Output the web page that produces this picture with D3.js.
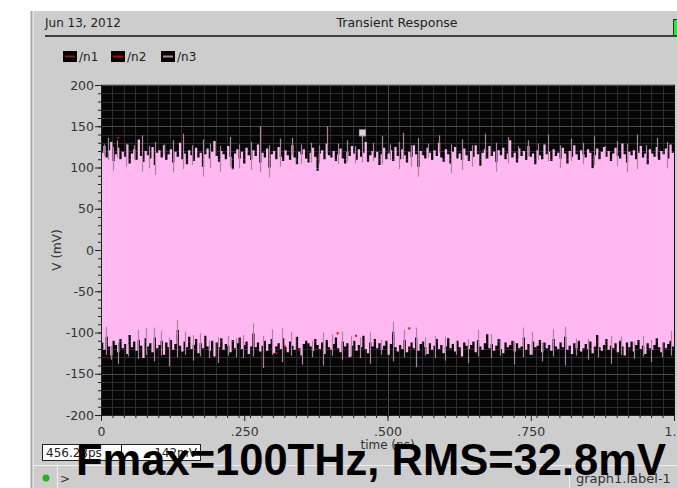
<!DOCTYPE html>
<html>
<head>
<meta charset="utf-8">
<script src="https://cdn.jsdelivr.net/npm/d3@7"></script>
<style>
  body { margin: 0; background: #ffffff; }
  svg { display: block; }
  text { font-family: "DejaVu Sans", sans-serif; }
  text.annotation { font-family: "Liberation Sans", Arial, sans-serif; font-weight: bold; }
</style>
</head>
<body>
<svg id="chart" width="677" height="488"></svg>
<script>
// ---- Transient response: node voltage noise, 0 .. 1 ns ----
const sampleStep = 0.004; // ns per min/max bin

// upper envelope of the trace per bin (mV)
const binMax = [
  118,126,112,121,131,108,116,124,110,119,
  113,128,105,117,122,109,134,114,107,120,
  115,111,125,103,118,121,112,127,109,116,
  122,106,119,113,130,110,117,104,121,115,
  108,124,112,118,101,116,123,111,119,132,
  114,107,120,116,110,126,113, 98,117,122,
  111,119,105,124,115,109,121,114,128,106,
  118,112,123,100,116,120,110,125,113,108,
  121,115,109,127,112,104,119,116,122,111,
  106,118,124,113, 96,117,121,110,129,115,
  112,120,108,116,123,111,105,119,114,126,
  117,109,122,113,118,131,107,115,120,112,
  119,103,116,124,110,117,121,108,125,114,
  110,122,115,106,119,113,127,116,101,120,
  115,111,124,118,109,121,114,130,112,107,
  122,116,105,119,125,111,117,109,123,115,
  108,120,113,127,116,102,118,122,111,126,
  114,119,107,121,115,124,110,117,133,112,
  118,106,123,114,120,109,126,113,117,104,
  121,115,110,128,116,119,108,122,114,118,
  111,124,117,105,120,113,127,116,109,121,
  116,112,122,118, 99,115,123,110,119,125,
  113,120,108,117,124,114,111,129,116,106,
  119,115,121,110,118,126,112,117,104,122,
  117,113,125,109,120,116,123,111,128,118
];

// lower envelope of the trace per bin (mV)
const binMin = [
  -112,-121,-105,-117,-128,-110,-115,-124,-108,-119,
  -114,-126,-103,-118,-111,-122,-109,-116,-131,-107,
  -117,-113,-124,-106,-119,-115,-110,-127,-112,-118,
  -109,-121,-114, -97,-116,-123,-111,-118,-105,-120,
  -115,-108,-125,-113,-119,-104,-117,-122,-110,-129,
  -112,-118,-107,-121,-114,-116,-124,-109,-119,-113,
  -106,-120,-115,-111,-126,-117,-101,-118,-112,-123,
  -116,-110,-122,-114,-108,-125,-117,-113,-120,-107,
  -118,-124,-111,-116,-121,-105,-119,-128,-114,-110,
  -113,-117,-122,-108,-115,-120,-112,-126,-109,-118,
  -121,-114,-106,-119,-124,-111,-117,-113,-130,-116,
  -110,-122,-115,-118,-104,-120,-125,-112,-117,-108,
  -119,-113,-121,-116,-110,-127,-114, -99,-118,-123,
  -115,-120,-109,-124,-117,-112,-119,-106,-122,-114,
  -111,-118,-126,-113,-121,-116,-108,-120,-115,-125,
  -117,-107,-119,-114,-123,-110,-118,-129,-112,-116,
  -120,-115,-111,-124,-109,-117,-121,-113,-102,-119,
  -114,-122,-116,-108,-120,-125,-112,-118,-115,-110,
  -123,-113,-119,-117,-106,-121,-114,-127,-111,-118,
  -116,-109,-124,-112,-119,-115,-122,-108,-117,-120,
  -112,-118,-105,-121,-116,-126,-113,-119,-110,-123,
  -119,-114,-120,-111,-125,-117,-103,-118,-122,-115,
  -108,-121,-116,-119,-113,-124,-110,-117,-128,-112,
  -118,-111,-123,-115,-109,-120,-116,-126,-113,-119,
  -121,-115,-107,-118,-124,-112,-119,-114,-110,-117
];

// isolated peaks of the /n3 trace beyond the envelope: [time (ns), mV]
const peaksHigh = [
  [0.006,128],[0.012,136],[0.021,125],[0.028,133],[0.043,129],[0.058,127],[0.072,139],
  [0.084,126],[0.095,131],[0.110,128],[0.126,133],[0.143,141],[0.158,127],[0.178,134],
  [0.190,129],[0.207,126],[0.226,137],[0.241,128],[0.262,131],[0.278,150],[0.293,127],
  [0.312,135],[0.334,136],[0.349,128],[0.366,130],[0.381,127],[0.395,150],[0.413,129],
  [0.430,133],[0.443,126],[0.456,142],[0.474,130],[0.490,138],[0.505,128],[0.520,131],
  [0.527,142],[0.541,127],[0.554,136],[0.571,129],[0.590,139],[0.611,128],[0.630,134],
  [0.648,127],[0.670,141],[0.689,130],[0.710,137],[0.728,126],[0.745,133],[0.762,129],
  [0.780,140],[0.801,127],[0.820,135],[0.842,130],[0.860,138],[0.879,126],[0.900,132],
  [0.918,129],[0.935,140],[0.952,127],[0.970,136],[0.988,131]
];
const peaksLow = [
  [0.009,-127],[0.018,-133],[0.030,-138],[0.047,-129],[0.065,-132],[0.079,-127],[0.092,-135],
  [0.104,-128],[0.118,-141],[0.133,-130],[0.147,-127],[0.160,-134],[0.173,-129],[0.188,-131],
  [0.205,-137],[0.221,-128],[0.235,-130],[0.248,-131],[0.266,-129],[0.283,-143],[0.299,-127],
  [0.316,-136],[0.331,-128],[0.350,-139],[0.368,-130],[0.387,-140],[0.404,-128],[0.420,-133],
  [0.437,-129],[0.452,-131],[0.470,-138],[0.488,-127],[0.510,-135],[0.529,-130],[0.550,-142],
  [0.566,-128],[0.583,-131],[0.600,-134],[0.619,-127],[0.640,-137],[0.658,-129],[0.680,-131],
  [0.697,-128],[0.720,-139],[0.737,-130],[0.753,-127],[0.770,-135],[0.789,-129],[0.810,-140],
  [0.829,-128],[0.850,-133],[0.868,-130],[0.890,-138],[0.908,-127],[0.930,-132],[0.946,-129],
  [0.960,-136],[0.979,-130],[0.994,-128]
];

// samples of the /n2 trace visible at the edges: [time (ns), mV]
const n2Points = [[0.030,136],[0.306,-125],[0.321,-117],[0.346,-121],[0.413,-101],[0.445,-104],[0.538,-95]];

// cursor readout
const cursorT = 0.45628;   // ns
const cursorV = 142;       // mV

const yTickValues = [200, 150, 100, 50, 0, -50, -100, -150, -200];
const xTickValues = [0, 0.25, 0.5, 0.75, 1];
const xTickLabels = ["0", ".250", ".500", ".750", "1."];

const legendItems = [
  { name: "/n1", color: "#7a2418" },
  { name: "/n2", color: "#c80000" },
  { name: "/n3", color: "#a88aa2" }
];

// ---- layout ----
const svg = d3.select("#chart");
const plot = { left: 101, right: 674, top: 85, bottom: 415 };
const panelGray = "#cdcdcd";

const x = d3.scaleLinear().domain([0, 1]).range([plot.left, plot.right]);
const y = d3.scaleLinear().domain([-200, 200]).range([plot.bottom, plot.top]);

// window panel
svg.append("rect").attr("x", 30).attr("y", 11).attr("width", 647).attr("height", 477).attr("fill", panelGray);
svg.append("line").attr("x1", 31.5).attr("x2", 31.5).attr("y1", 11).attr("y2", 488).attr("stroke", "#a8a8a8");
svg.append("line").attr("x1", 33.5).attr("x2", 33.5).attr("y1", 11).attr("y2", 488).attr("stroke", "#e6e6e6");

// header
svg.append("text").attr("x", 45).attr("y", 27).attr("font-size", 12).attr("fill", "#222").text("Jun 13, 2012");
svg.append("text").attr("x", 397).attr("y", 27).attr("font-size", 12.5).attr("fill", "#222")
  .attr("text-anchor", "middle").text("Transient Response");
svg.append("line").attr("x1", 45).attr("x2", 677).attr("y1", 36).attr("y2", 36).attr("stroke", "#111").attr("stroke-width", 1.5);
svg.append("rect").attr("x", 673.5).attr("y", 19.5).attr("width", 5).attr("height", 16).attr("fill", "#22ee22").attr("stroke", "#333");

// legend
const legendX = [63, 111, 161];
const lg = svg.append("g").selectAll("g").data(legendItems).join("g")
  .attr("transform", (d, i) => `translate(${legendX[i]},51)`);
lg.append("rect").attr("width", 14).attr("height", 11).attr("fill", "#000");
lg.append("line").attr("x1", 2).attr("x2", 12).attr("y1", 5.5).attr("y2", 5.5)
  .attr("stroke", d => d.color).attr("stroke-width", 2);
lg.append("text").attr("x", 16).attr("y", 10).attr("font-size", 12).attr("fill", "#222").text(d => d.name);

// plot background
svg.append("rect").attr("x", plot.left).attr("y", plot.top)
  .attr("width", plot.right - plot.left).attr("height", plot.bottom - plot.top).attr("fill", "#060606");

// grid: minor then major
const grid = svg.append("g");
const xMinor = x.ticks(40), yMinor = y.ticks(40);
grid.selectAll(".vx").data(xMinor).join("line")
  .attr("x1", d => Math.round(x(d)) + 0.5).attr("x2", d => Math.round(x(d)) + 0.5)
  .attr("y1", plot.top).attr("y2", plot.bottom)
  .attr("stroke", d => xTickValues.some(v => Math.abs(v - d) < 1e-9) ? "#4c4c4c" : "#2c2c2c");
grid.selectAll(".hy").data(yMinor).join("line")
  .attr("y1", d => Math.round(y(d)) + 0.5).attr("y2", d => Math.round(y(d)) + 0.5)
  .attr("x1", plot.left).attr("x2", plot.right)
  .attr("stroke", d => d % 50 === 0 ? "#4c4c4c" : "#2c2c2c");

// clip for the trace
svg.append("clipPath").attr("id", "plotClip").append("rect")
  .attr("x", plot.left).attr("y", plot.top)
  .attr("width", plot.right - plot.left).attr("height", plot.bottom - plot.top);
const traceG = svg.append("g").attr("clip-path", "url(#plotClip)");

// min/max band of the trace
const bins = binMax.map((hi, i) => ({ t: i * sampleStep, hi, lo: binMin[i] }));
bins.push({ t: 1, hi: binMax[binMax.length - 1], lo: binMin[binMin.length - 1] });
const band = d3.area().x(d => x(d.t)).y0(d => y(d.lo)).y1(d => y(d.hi)).curve(d3.curveStepAfter);
traceG.append("path").datum(bins).attr("d", band).attr("fill", "#ffb8f0");

// isolated peaks
const binAt = t => bins[Math.min(binMax.length - 1, Math.floor(t / sampleStep))];
traceG.selectAll(".ph").data(peaksHigh).join("line")
  .attr("x1", d => Math.round(x(d[0])) + 0.5).attr("x2", d => Math.round(x(d[0])) + 0.5)
  .attr("y1", d => y(binAt(d[0]).hi - 12)).attr("y2", d => y(d[1]))
  .attr("stroke", "#a9839f").attr("stroke-width", 1.2);
traceG.selectAll(".pl").data(peaksLow).join("line")
  .attr("x1", d => Math.round(x(d[0])) + 0.5).attr("x2", d => Math.round(x(d[0])) + 0.5)
  .attr("y1", d => y(binAt(d[0]).lo + 12)).attr("y2", d => y(d[1]))
  .attr("stroke", "#a9839f").attr("stroke-width", 1.2);
traceG.selectAll(".n2").data(n2Points).join("rect")
  .attr("x", d => x(d[0]) - 1).attr("y", d => y(d[1]) - 1).attr("width", 2).attr("height", 2)
  .attr("fill", "#e00000");

// cursor marker
svg.append("rect").attr("x", x(cursorT) - 3).attr("y", y(cursorV) - 3).attr("width", 6).attr("height", 6)
  .attr("fill", "#e4cfe0").attr("stroke", "#b0b0b0");

// plot frame
svg.append("line").attr("x1", plot.left).attr("x2", plot.right + 1).attr("y1", plot.top - 0.5).attr("y2", plot.top - 0.5).attr("stroke", "#9a9a9a");
svg.append("line").attr("x1", plot.right + 0.5).attr("x2", plot.right + 0.5).attr("y1", plot.top).attr("y2", plot.bottom).attr("stroke", "#111");

// axes
const axisColor = "#222";
const yMinorAxis = svg.append("g").attr("transform", `translate(${plot.left},0)`)
  .call(d3.axisLeft(y).tickValues(yMinor).tickSize(3).tickFormat(""));
const yAxis = svg.append("g").attr("transform", `translate(${plot.left},0)`)
  .call(d3.axisLeft(y).tickValues(yTickValues).tickSize(6).tickPadding(1).tickFormat(d => String(d)));
const xMinorAxis = svg.append("g").attr("transform", `translate(0,${plot.bottom})`)
  .call(d3.axisBottom(x).tickValues(xMinor).tickSize(3).tickFormat(""));
const xAxis = svg.append("g").attr("transform", `translate(0,${plot.bottom})`)
  .call(d3.axisBottom(x).tickValues(xTickValues).tickSize(6).tickPadding(6).tickFormat((d, i) => xTickLabels[i]));
[yMinorAxis, yAxis, xMinorAxis, xAxis].forEach(g => {
  g.selectAll("path.domain").attr("stroke", axisColor);
  g.selectAll(".tick line").attr("stroke", axisColor);
  g.selectAll(".tick text").attr("fill", "#333").attr("font-size", 12.5);
});
xAxis.selectAll(".tick text").filter((d, i) => i === xTickValues.length - 1)
  .attr("text-anchor", "end").attr("dx", 2);

// axis titles
svg.append("text").attr("transform", "translate(61,250) rotate(-90)").attr("text-anchor", "middle")
  .attr("font-size", 12).attr("fill", "#333").text("V (mV)");
svg.append("text").attr("x", (plot.left + plot.right) / 2).attr("y", 449).attr("text-anchor", "middle")
  .attr("font-size", 12).attr("fill", "#333").text("time (ns)");

// cursor readout boxes
svg.append("rect").attr("x", 42.5).attr("y", 444.5).attr("width", 79).attr("height", 16).attr("fill", "#fff").attr("stroke", "#222");
svg.append("rect").attr("x", 121.5).attr("y", 444.5).attr("width", 79).attr("height", 16).attr("fill", "#fff").attr("stroke", "#222");
svg.append("text").attr("x", 46).attr("y", 457).attr("font-size", 12).attr("fill", "#222").text((cursorT * 1000).toFixed(2) + "ps");
svg.append("text").attr("x", 197).attr("y", 457).attr("font-size", 12).attr("fill", "#222")
  .attr("text-anchor", "end").text(cursorV + "mV");

// status bar
svg.append("line").attr("x1", 34).attr("x2", 677).attr("y1", 465.5).attr("y2", 465.5).attr("stroke", "#f0f0f0");
svg.append("line").attr("x1", 57.5).attr("x2", 57.5).attr("y1", 466).attr("y2", 488).attr("stroke", "#f0f0f0");
svg.append("line").attr("x1", 569.5).attr("x2", 569.5).attr("y1", 466).attr("y2", 488).attr("stroke", "#f0f0f0");
svg.append("circle").attr("cx", 46).attr("cy", 478).attr("r", 3.5).attr("fill", "#1fb51f");
svg.append("text").attr("x", 60).attr("y", 483).attr("font-size", 12).attr("fill", "#333").text(">");
svg.append("text").attr("x", 576).attr("y", 483).attr("font-size", 13).attr("fill", "#333").text("graph1.label-1");

// annotation
svg.append("text").attr("class", "annotation").attr("x", 76).attr("y", 475)
  .attr("font-size", 43.5).attr("fill", "#000").text("Fmax=100THz, RMS=32.8mV");
</script>
</body>
</html>
